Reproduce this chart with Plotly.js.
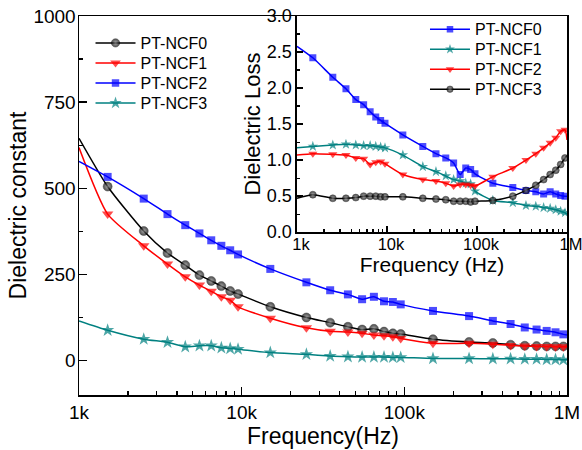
<!DOCTYPE html>
<html>
<head>
<meta charset="utf-8">
<script src="https://cdn.plot.ly/plotly-3.0.1.min.js"></script>
<style>html,body{margin:0;padding:0;background:#fff;}#chart{width:582px;height:450px;}</style>
</head>
<body>
<div id="chart"></div>
<script>
// Frequencies (Hz)
const freq = [1000, 1500, 2500, 3500, 4500, 5500, 6500, 7500, 8500, 9500,
  15000, 25000, 35000, 45000, 55000, 65000, 75000, 85000, 95000,
  150000, 250000, 350000, 450000, 550000, 650000, 750000, 850000, 950000, 1000000];

// Main plot: dielectric constant
const epsNCF0 = [645, 505, 376, 312, 277, 248, 231, 216, 202, 193, 156, 125, 110, 98, 90, 92, 84, 79, 77, 62, 54, 51, 46, 43, 42, 41, 41, 41, 41];
const epsNCF1 = [618, 425, 333, 280, 243, 219, 201, 185, 175, 156, 123, 95, 85, 83, 79, 74, 72, 69, 64, 50, 50, 47, 44, 42, 41, 41, 40, 40, 40];
const epsNCF2 = [578, 533, 470, 425, 393, 369, 349, 333, 320, 308, 266, 227, 204, 192, 178, 185, 172, 170, 163, 144, 129, 115, 106, 96, 90, 86, 82, 76, 74];
const epsNCF3 = [115, 88, 62, 53, 40, 43, 43, 37, 35, 33, 23, 18, 13, 11, 10, 10, 10, 9, 9, 6, 6, 5, 5, 4, 4, 3, 3, 2, 2];

// Inset: dielectric loss
const lossNCF0 = [2.58, 2.42, 2.15, 1.99, 1.84, 1.77, 1.67, 1.60, 1.55, 1.51, 1.35, 1.19, 1.09, 1.03, 0.96, 0.80, 0.89, 0.87, 0.81, 0.68, 0.62, 0.58, 0.56, 0.53, 0.56, 0.53, 0.51, 0.50, 0.50];
const lossNCF1 = [1.17, 1.19, 1.21, 1.22, 1.21, 1.20, 1.20, 1.19, 1.18, 1.17, 1.07, 0.91, 0.84, 0.78, 0.73, 0.71, 0.68, 0.67, 0.57, 0.44, 0.41, 0.37, 0.36, 0.34, 0.33, 0.31, 0.29, 0.27, 0.25];
const lossNCF2 = [1.07, 1.09, 1.08, 1.07, 1.03, 1.02, 0.94, 0.97, 0.98, 0.95, 0.80, 0.73, 0.71, 0.68, 0.64, 0.66, 0.66, 0.65, 0.64, 0.77, 0.89, 1.00, 1.09, 1.17, 1.24, 1.31, 1.40, 1.42, 1.28];
const lossNCF3 = [0.47, 0.52, 0.47, 0.47, 0.48, 0.50, 0.50, 0.50, 0.49, 0.49, 0.49, 0.47, 0.46, 0.45, 0.43, 0.43, 0.43, 0.42, 0.43, 0.44, 0.50, 0.58, 0.65, 0.73, 0.80, 0.86, 0.94, 1.03, 1.06];

// Tick labels
const freqTickVals = [1000, 10000, 100000, 1000000];
const freqTickText = ['1k', '10k', '100k', '1M'];
const freqMinorVals = [2000,3000,4000,5000,6000,7000,8000,9000,20000,30000,40000,50000,60000,70000,80000,90000,200000,300000,400000,500000,600000,700000,800000,900000];
const epsTickVals = [0, 250, 500, 750, 1000];
const epsMinorVals = [125, 375, 625, 875];
const lossTickVals = [0, 0.5, 1.0, 1.5, 2.0, 2.5, 3.0];
const lossTickText = ['0.0', '0.5', '1.0', '1.5', '2.0', '2.5', '3.0'];
const lossMinorVals = [0.25, 0.75, 1.25, 1.75, 2.25, 2.75];

const mainNames = ['PT-NCF0', 'PT-NCF1', 'PT-NCF2', 'PT-NCF3'];
const insetNames = ['PT-NCF0', 'PT-NCF1', 'PT-NCF2', 'PT-NCF3'];

const BLACK = '#000000', RED = '#ff0000', BLUE = '#0000ff', TEAL = '#008080';
const FONT = 'Arial, "Liberation Sans", sans-serif';

function sizes(s) { return freq.map((f, i) => (i === 0 || i === freq.length - 1) ? 0 : s); }

function trace(y, name, color, symbol, msize, xa, ya, legend, extra) {
  const m = { symbol: symbol, size: sizes(msize), color: color, line: { width: 0 } };
  if (extra) Object.assign(m, extra);
  return {
    x: freq, y: y, name: name, type: 'scatter', mode: 'lines+markers',
    xaxis: xa, yaxis: ya, legend: legend,
    line: { color: color, width: 1.5, shape: 'spline', smoothing: 0.6 },
    marker: m
  };
}

const sphere = { gradient: { type: 'radial', color: '#8a8a8a' }, line: { width: 0.5, color: '#000' } };

const data = [
  trace(epsNCF0, mainNames[0], BLACK, 'circle', 9, 'x', 'y', 'legend', sphere),
  trace(epsNCF1, mainNames[1], RED, 'triangle-down', 10, 'x', 'y', 'legend2'),
  trace(epsNCF2, mainNames[2], BLUE, 'square', 8, 'x', 'y', 'legend3'),
  trace(epsNCF3, mainNames[3], TEAL, 'star', 10, 'x', 'y', 'legend4'),
  trace(lossNCF0, insetNames[0], BLUE, 'square', 7, 'x2', 'y2', 'legend5'),
  trace(lossNCF1, insetNames[1], TEAL, 'star', 8, 'x2', 'y2', 'legend6'),
  trace(lossNCF2, insetNames[2], RED, 'triangle-down', 8, 'x2', 'y2', 'legend7'),
  trace(lossNCF3, insetNames[3], BLACK, 'circle', 7, 'x2', 'y2', 'legend8', sphere)
];

const axisCommon = {
  showline: true, linecolor: '#000', linewidth: 1.5, mirror: true,
  ticks: 'inside', tickcolor: '#000', tickwidth: 1.5,
  showgrid: false, zeroline: false, color: '#000'
};

const layout = {
  width: 582, height: 450,
  margin: { l: 79, r: 15, t: 16, b: 55 },
  paper_bgcolor: '#fff', plot_bgcolor: '#fff',
  font: { family: FONT, color: '#000' },
  showlegend: true,
  xaxis: Object.assign({}, axisCommon, {
    type: 'log', range: [3, 6], domain: [0, 1], anchor: 'y',
    tickmode: 'array', tickvals: freqTickVals, ticktext: freqTickText,
    ticklen: 8, tickfont: { size: 19 },
    minor: { tickmode: 'array', tickvals: freqMinorVals, ticks: 'inside', ticklen: 4, tickwidth: 1.2, tickcolor: '#000', showgrid: false },
    title: { text: 'Frequency(Hz)', font: { size: 23 }, standoff: 0 }
  }),
  yaxis: Object.assign({}, axisCommon, {
    range: [-100, 1000], domain: [0, 1], anchor: 'x',
    tickmode: 'array', tickvals: epsTickVals,
    ticklen: 8, tickfont: { size: 19 }, ticklabelstandoff: -2,
    minor: { tickmode: 'array', tickvals: epsMinorVals, ticks: 'inside', ticklen: 4, tickwidth: 1.2, tickcolor: '#000', showgrid: false },
    title: { text: 'Dielectric constant', font: { size: 23 }, standoff: 0 }
  }),
  xaxis2: Object.assign({}, axisCommon, {
    type: 'log', range: [3, 6], domain: [0.4467, 1], anchor: 'y2',
    tickmode: 'array', tickvals: freqTickVals, ticktext: freqTickText,
    ticklen: 6, tickfont: { size: 16.5 }, ticklabelstandoff: -3, ticklabelshift: 4,
    ticklabeloverflow: 'allow',
    minor: { tickmode: 'array', tickvals: freqMinorVals, ticks: 'inside', ticklen: 3, tickwidth: 1.2, tickcolor: '#000', showgrid: false },
    title: { text: 'Frequency (Hz)', font: { size: 21 }, standoff: 0 }
  }),
  yaxis2: Object.assign({}, axisCommon, {
    range: [0, 3], domain: [0.4296, 1], anchor: 'x2',
    tickmode: 'array', tickvals: lossTickVals, ticktext: lossTickText,
    ticklen: 6, tickfont: { size: 18 }, ticklabelstandoff: 0,
    minor: { tickmode: 'array', tickvals: lossMinorVals, ticks: 'inside', ticklen: 3, tickwidth: 1.2, tickcolor: '#000', showgrid: false },
    title: { text: 'Dielectric Loss', font: { size: 22 }, standoff: 0 }
  })
};

// one legend per entry so the row spacing matches the original
const mainRowsY = [0.9288, 0.876, 0.8232, 0.7704];
const insetRowsY = [0.9649, 0.9121, 0.8594, 0.8066];
function legendBox(x, y) {
  return {
    x: x, y: y, xanchor: 'left', yanchor: 'middle',
    bgcolor: 'rgba(0,0,0,0)', borderwidth: 0,
    font: { size: 16, family: FONT }, itemwidth: 40
  };
}
const legendIds = ['legend', 'legend2', 'legend3', 'legend4', 'legend5', 'legend6', 'legend7', 'legend8'];
legendIds.forEach((id, i) => {
  layout[id] = i < 4 ? legendBox(0.0236, mainRowsY[i]) : legendBox(0.709, insetRowsY[i - 4]);
});

Plotly.newPlot('chart', data, layout, { displayModeBar: false, staticPlot: true });
</script>
</body>
</html>
